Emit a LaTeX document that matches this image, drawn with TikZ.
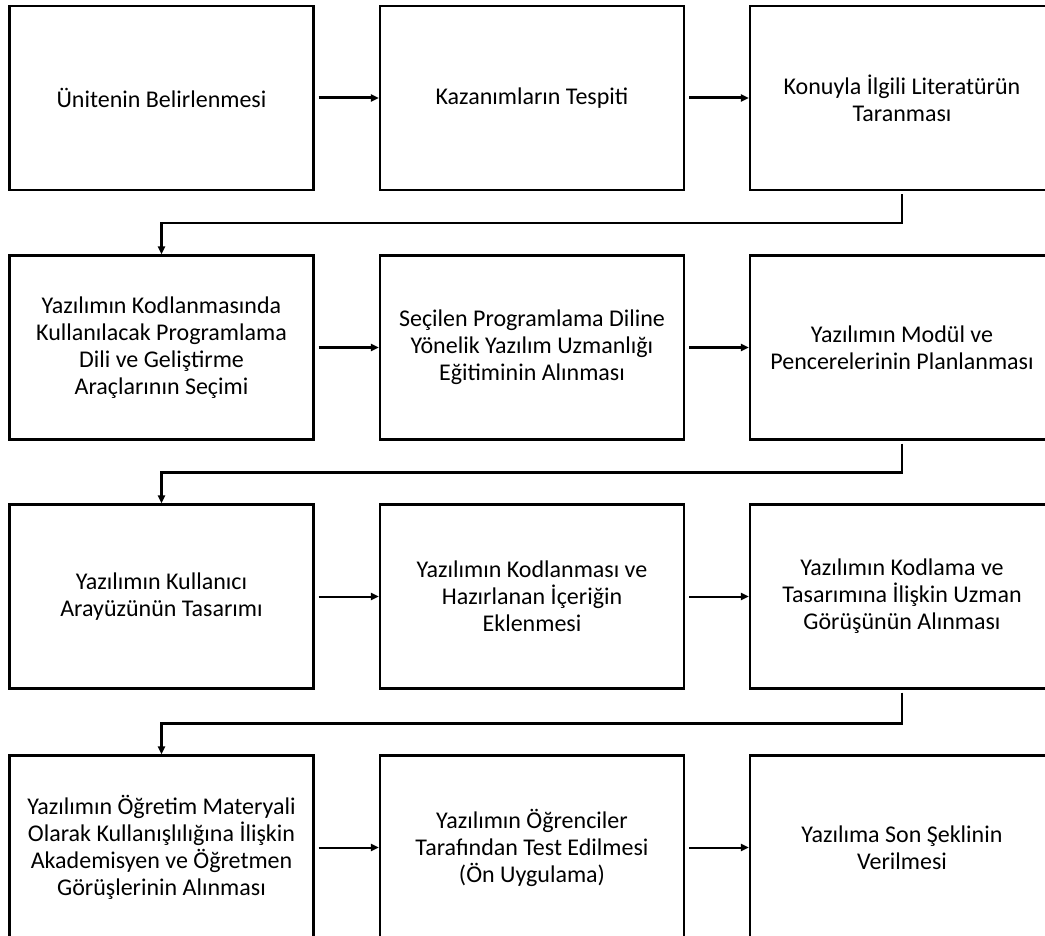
\documentclass[tikz,border=0pt]{standalone}
\usepackage{fontspec}
\setmainfont{Carlito}
\usetikzlibrary{arrows.meta}
\begin{document}
\begin{tikzpicture}[x=1pt,y=-1pt,
  stepbox/.style={draw,line width=2.2pt,minimum width=304pt,minimum height=184pt,inner sep=0pt,align=center,font=\fontsize{24}{27}\selectfont},
  boldarrow/.style={line width=3pt,shorten <=4pt,-{Triangle[length=8pt,width=7pt]}},
  thinarrow/.style={line width=2pt,shorten <=4pt,-{Triangle[length=8pt,width=7pt]}},
  rowlink/.style={line width=2.8pt,-{Triangle[length=8pt,width=7pt]}}]
\useasboundingbox (0,0) rectangle (1045,936);
\clip (0,0) rectangle (1045,936);
% row 1
\node[stepbox] (a1) at (161.5,98) {Ünitenin Belirlenmesi};
\node[stepbox] (a2) at (532,98) {Kazanımların Tespiti};
\node[stepbox] (a3) at (902,98) {Konuyla İlgili Literatürün\\Taranması};
% row 2
\node[stepbox] (b1) at (161.5,347.5) {Yazılımın Kodlanmasında\\Kullanılacak Programlama\\Dili ve Geliştirme\\Araçlarının Seçimi};
\node[stepbox] (b2) at (532,347.5) {Seçilen Programlama Diline\\Yönelik Yazılım Uzmanlığı\\Eğitiminin Alınması};
\node[stepbox] (b3) at (902,347.5) {Yazılımın Modül ve\\Pencerelerinin Planlanması};
% row 3
\node[stepbox] (c1) at (161.5,596.5) {Yazılımın Kullanıcı\\Arayüzünün Tasarımı};
\node[stepbox] (c2) at (532,596.5) {Yazılımın Kodlanması ve\\Hazırlanan İçeriğin\\Eklenmesi};
\node[stepbox] (c3) at (902,596.5) {Yazılımın Kodlama ve\\Tasarımına İlişkin Uzman\\Görüşünün Alınması};
% row 4
\node[stepbox] (d1) at (161.5,847.5) {Yazılımın Öğretim Materyali\\Olarak Kullanışlılığına İlişkin\\Akademisyen ve Öğretmen\\Görüşlerinin Alınması};
\node[stepbox] (d2) at (532,847.5) {Yazılımın Öğrenciler\\Tarafından Test Edilmesi\\(Ön Uygulama)};
\node[stepbox] (d3) at (902,847.5) {Yazılıma Son Şeklinin\\Verilmesi};
% horizontal arrows
\draw[boldarrow] (a1) -- (a2);
\draw[boldarrow] (a2) -- (a3);
\draw[boldarrow] (b1) -- (b2);
\draw[boldarrow] (b2) -- (b3);
\draw[thinarrow] (c1) -- (c2);
\draw[thinarrow] (c2) -- (c3);
\draw[thinarrow] (d1) -- (d2);
\draw[thinarrow] (d2) -- (d3);
% row links
\draw[rowlink] ([yshift=-3pt]a3.south) -- ++(0,29) -| (b1.north);
\draw[rowlink] ([yshift=-3pt]b3.south) -- ++(0,29) -| (c1.north);
\draw[rowlink] ([yshift=-3pt]c3.south) -- ++(0,31) -| (d1.north);
\end{tikzpicture}
\end{document}
